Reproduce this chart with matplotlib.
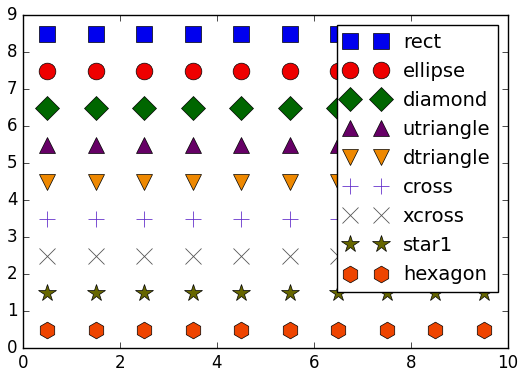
import matplotlib
matplotlib.use("Agg")
import matplotlib.pyplot as plt
import numpy as np

plt.style.use('classic')

x_values = [0.5, 1.5, 2.5, 3.5, 4.5, 5.5, 6.5, 7.5, 8.5, 9.5]
names = ["rect", "ellipse", "diamond", "utriangle", "dtriangle", "cross", "xcross", "star1", "hexagon"]
y_levels = [8.5, 7.5, 6.5, 5.5, 4.5, 3.5, 2.5, 1.5, 0.5]
markers = ["s", "o", "D", "^", "v", "+", "x", "*", "h"]
colors = ["#0000ee", "#ee0000", "#006600", "#660066", "#ee8800", "#6633cc", "#555555", "#666600", "#ee4400"]
sizes = [12, 12, 12, 12, 12, 12, 12, 13, 12]

fig = plt.figure(figsize=(5.27, 3.77), dpi=100, facecolor='white')
ax = fig.add_axes([23/527, 29/377, 485/527, 333/377])
for name, y, m, c, s in zip(names, y_levels, markers, colors, sizes):
    ax.plot(x_values, [y]*len(x_values), linestyle='none', marker=m, color=c,
            markerfacecolor=c, markeredgecolor=('black' if m not in '+x' else c),
            markersize=s, markeredgewidth=(0.5 if m not in '+x' else 0.6), label=name)
ax.set_xlim(0, 10)
ax.set_ylim(0, 9)
ax.legend(loc='upper right', numpoints=2, fontsize=14, handlelength=2.2, labelspacing=0.52)
fig.savefig("out.png", dpi=100, facecolor='white')
